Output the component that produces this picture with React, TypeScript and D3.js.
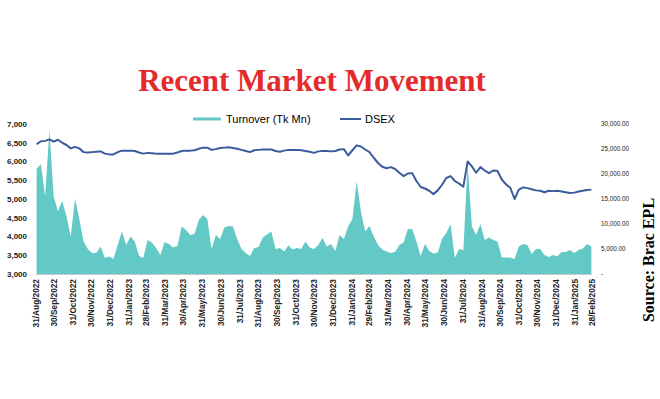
import React from "react";
import * as d3 from "d3";

const W = 660;
const H = 399;

// Weekly observations starting 1 Sep 2022
const startDate = "2022-09-01";

const turnover: number[] = [
  21000, 22000, 15500, 28800, 15500, 12500, 14600, 11500, 7500, 15100,
  11000, 6500, 5000, 4200, 4200, 5500, 3200, 3500, 3000, 5800,
  8500, 5800, 7500, 6500, 3600, 3200, 6800, 6300, 5200, 3800,
  6400, 6000, 5300, 5600, 9500, 8800, 7800, 8000, 10800, 11800,
  11000, 5000, 7800, 7000, 9300, 9600, 9500, 7000, 5000, 4200,
  3600, 5200, 5400, 7300, 7900, 8500, 5000, 5200, 4500, 5700,
  4900, 5200, 5000, 6500, 5300, 5000, 5800, 7200, 5500, 6000,
  4600, 7800, 7000, 9500, 11000, 18500, 12500, 8500, 9600, 7500,
  5800, 4900, 4500, 4200, 4400, 5800, 6300, 9000, 9000, 6500,
  3600, 6000, 4600, 4100, 4300, 7000, 8200, 10000, 3200, 5000,
  4800, 22000, 9500, 7800, 10000, 6800, 7300, 6800, 6500, 3300,
  3300, 3300, 3000, 5500, 6000, 5800, 4000, 5000, 5000, 3800,
  3400, 3800, 3500, 4400, 4400, 4800, 4200, 4800, 5100, 6000, 5500,
];

const dsex: number[] = [
  6460, 6540, 6550, 6590, 6530, 6580, 6500, 6440, 6350, 6390,
  6350, 6250, 6240, 6250, 6260, 6270, 6210, 6190, 6190, 6250,
  6290, 6290, 6290, 6280, 6240, 6210, 6230, 6220, 6210, 6210,
  6210, 6210, 6210, 6240, 6280, 6290, 6290, 6300, 6340, 6370,
  6370, 6310, 6330, 6360, 6370, 6380, 6360, 6340, 6310, 6280,
  6250, 6300, 6310, 6320, 6320, 6320, 6280, 6260, 6290, 6310,
  6310, 6310, 6300, 6280, 6260, 6230, 6270, 6280, 6280, 6270,
  6280, 6320, 6330, 6160, 6300, 6430, 6400, 6320, 6250, 6100,
  5960, 5860, 5820, 5850, 5800, 5700, 5610, 5680, 5690, 5480,
  5320, 5280, 5220, 5130, 5230, 5380, 5560, 5610, 5480, 5410,
  5330, 6000, 5870, 5700, 5850, 5760, 5690, 5760, 5750, 5520,
  5390, 5300, 5000, 5250, 5310, 5290, 5260, 5230, 5220, 5180,
  5220, 5210, 5220, 5200, 5180, 5160, 5170, 5200, 5220, 5240, 5250,
];

const xTickLabels: string[] = [
  "31/Aug/2022", "30/Sep/2022", "31/Oct/2022", "30/Nov/2022", "31/Dec/2022",
  "31/Jan/2023", "28/Feb/2023", "31/Mar/2023", "30/Apr/2023", "31/May/2023",
  "30/Jun/2023", "31/Jul/2023", "31/Aug/2023", "30/Sep/2023", "31/Oct/2023",
  "30/Nov/2023", "31/Dec/2023", "31/Jan/2024", "29/Feb/2024", "31/Mar/2024",
  "30/Apr/2024", "31/May/2024", "30/Jun/2024", "31/Jul/2024", "31/Aug/2024",
  "30/Sep/2024", "31/Oct/2024", "30/Nov/2024", "31/Dec/2024", "31/Jan/2025",
  "28/Feb/2025",
];

const leftTicks: number[] = [3000, 3500, 4000, 4500, 5000, 5500, 6000, 6500, 7000];
const rightTicks: number[] = [0, 5000, 10000, 15000, 20000, 25000, 30000];

const TEAL = "#62c9c6";
const BLUE = "#3a5b9c";
const FONT = "'Liberation Sans', Arial, sans-serif";

export default function App() {
  const parseTick = d3.timeParse("%d/%b/%Y");
  const tickDates = xTickLabels.map((s) => parseTick(s) as Date);
  const start = d3.timeParse("%Y-%m-%d")(startDate) as Date;
  const dates = turnover.map((_, i) => d3.timeDay.offset(start, i * 7));

  const x = d3
    .scaleTime()
    .domain([tickDates[0], tickDates[tickDates.length - 1]])
    .range([36, 592]);
  const yL = d3.scaleLinear().domain([3000, 7000]).range([274, 124]);
  const yR = d3.scaleLinear().domain([0, 30000]).range([274, 124]);

  const area = d3
    .area<number>()
    .x((_, i) => x(dates[i]))
    .y0(yR(0))
    .y1((d) => yR(d));
  const line = d3
    .line<number>()
    .x((_, i) => x(dates[i]))
    .y((d) => yL(d));

  const fmtL = d3.format(",");
  const fmtR = (v: number) => (v === 0 ? "-" : d3.format(",.2f")(v));

  return (
    <svg
      width={W}
      height={H}
      style={{ position: "absolute", left: 0, top: 0, background: "#fff" }}
    >
      <rect width={W} height={H} fill="#fff" />
      <text
        x={312}
        y={91}
        textAnchor="middle"
        fontFamily="'Liberation Serif', 'Times New Roman', serif"
        fontWeight="bold"
        fontSize={31}
        fill="#e42a2a"
      >
        Recent Market Movement
      </text>

      {/* legend */}
      <line x1={193} x2={221} y1={119} y2={119} stroke={TEAL} strokeWidth={3} />
      <text x={226} y={123} fontFamily={FONT} fontSize={11} fill="#000">
        Turnover (Tk Mn)
      </text>
      <line x1={340} x2={361} y1={119} y2={119} stroke={BLUE} strokeWidth={2} />
      <text x={365} y={123} fontFamily={FONT} fontSize={11} fill="#000">
        DSEX
      </text>

      {/* turnover area */}
      <path d={area(turnover) || ""} fill={TEAL} />
      {/* x axis line */}
      <line x1={36} x2={592} y1={274.5} y2={274.5} stroke="#c8c8c8" strokeWidth={1} />
      {/* DSEX line */}
      <path d={line(dsex) || ""} fill="none" stroke={BLUE} strokeWidth={2} strokeLinejoin="round" />

      {/* left axis */}
      {leftTicks.map((v) => (
        <text
          key={v}
          x={27}
          y={yL(v)}
          dy="0.35em"
          textAnchor="end"
          fontFamily={FONT}
          fontWeight="bold"
          fontSize={8}
          fill="#222"
        >
          {fmtL(v)}
        </text>
      ))}

      {/* right axis */}
      {rightTicks.map((v) => (
        <text
          key={v}
          x={601}
          y={yR(v)}
          dy="0.35em"
          textAnchor="start"
          fontFamily={FONT}
          fontSize={6.3}
          fill="#222"
        >
          {fmtR(v)}
        </text>
      ))}

      {/* x axis labels */}
      {tickDates.map((d, i) => (
        <text
          key={xTickLabels[i]}
          transform={`translate(${x(d)},279) rotate(-90)`}
          dy="0.35em"
          textAnchor="end"
          fontFamily={FONT}
          fontWeight="bold"
          fontSize={8.3}
          fill="#222"
        >
          {xTickLabels[i]}
        </text>
      ))}

      {/* source */}
      <text
        transform="translate(654,260) rotate(-90)"
        textAnchor="middle"
        fontFamily="'Liberation Serif', 'Times New Roman', serif"
        fontWeight="bold"
        fontSize={16}
        fill="#000"
      >
        Source: Brac EPL
      </text>
    </svg>
  );
}
